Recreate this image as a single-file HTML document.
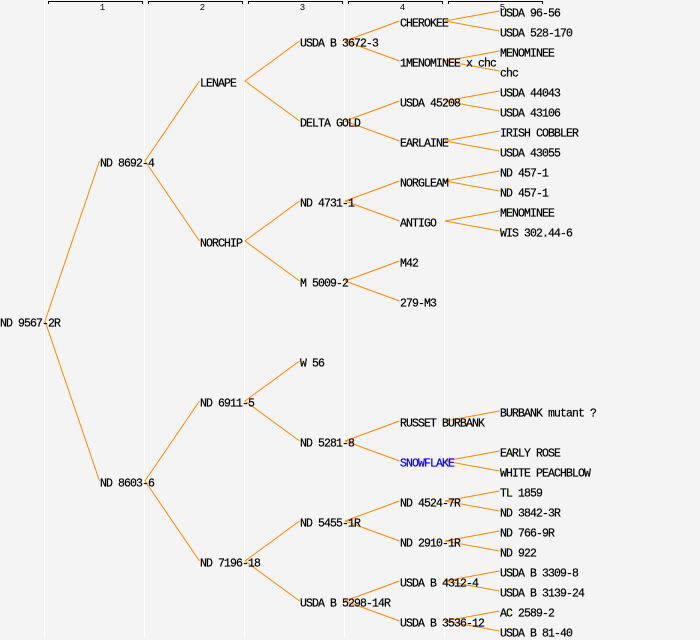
<!DOCTYPE html>
<html>
<head>
<meta charset="utf-8">
<style>
  html, body { margin: 0; padding: 0; background: #f4f4f4; }
  svg { display: block; }
  .t { font-family: "Liberation Mono", monospace; font-size: 11.5px; letter-spacing: -0.9px; fill: #000; stroke: #000; stroke-width: 0.2px; }
  .h { font-family: "Liberation Mono", monospace; font-size: 9px; fill: #000; }
  .e { stroke: #ff8800; stroke-width: 1; fill: none; }
</style>
</head>
<body>
<svg width="700" height="640" viewBox="0 0 700 640" xmlns="http://www.w3.org/2000/svg">
  <rect x="0" y="0" width="700" height="640" fill="#f4f4f4"/>
  <!-- column separators -->
  <g stroke="#ffffff" stroke-width="1">
    <line x1="44.5" y1="0" x2="44.5" y2="638"/>
    <line x1="144.5" y1="0" x2="144.5" y2="638"/>
    <line x1="244.5" y1="0" x2="244.5" y2="638"/>
    <line x1="344.5" y1="0" x2="344.5" y2="638"/>
    <line x1="444.5" y1="0" x2="444.5" y2="638"/>
  </g>
  <!-- header brackets -->
  <g stroke="#000" stroke-width="1" fill="none">
    <path d="M48.5,4 V1.5 H142.5 V4"/>
    <path d="M148.5,4 V1.5 H242.5 V4"/>
    <path d="M248.5,4 V1.5 H342.5 V4"/>
    <path d="M348.5,4 V1.5 H442.5 V4"/>
    <path d="M448.5,4 V1.5 H542.5 V4"/>
  </g>
  <g text-anchor="middle">
    <text class="h" x="102.5" y="10">1</text>
    <text class="h" x="202.5" y="10">2</text>
    <text class="h" x="302.5" y="10">3</text>
    <text class="h" x="402.5" y="10">4</text>
    <text class="h" x="502.5" y="10">5</text>
  </g>

  <!-- edges -->
  <g class="e">
    <line x1="45" y1="321" x2="99.5" y2="161"/>
    <line x1="45" y1="321" x2="99.5" y2="481"/>
    <line x1="145" y1="161" x2="199.5" y2="81"/>
    <line x1="145" y1="161" x2="199.5" y2="241"/>
    <line x1="145" y1="481" x2="199.5" y2="401"/>
    <line x1="145" y1="481" x2="199.5" y2="561"/>
    <line x1="245" y1="81" x2="299.5" y2="41"/>
    <line x1="245" y1="81" x2="299.5" y2="121"/>
    <line x1="245" y1="241" x2="299.5" y2="201"/>
    <line x1="245" y1="241" x2="299.5" y2="281"/>
    <line x1="245" y1="401" x2="299.5" y2="361"/>
    <line x1="245" y1="401" x2="299.5" y2="441"/>
    <line x1="245" y1="561" x2="299.5" y2="521"/>
    <line x1="245" y1="561" x2="299.5" y2="601"/>
    <line x1="345" y1="41" x2="399.5" y2="21"/>
    <line x1="345" y1="41" x2="399.5" y2="61"/>
    <line x1="345" y1="121" x2="399.5" y2="101"/>
    <line x1="345" y1="121" x2="399.5" y2="141"/>
    <line x1="345" y1="201" x2="399.5" y2="181"/>
    <line x1="345" y1="201" x2="399.5" y2="221"/>
    <line x1="345" y1="281" x2="399.5" y2="261"/>
    <line x1="345" y1="281" x2="399.5" y2="301"/>
    <line x1="345" y1="441" x2="399.5" y2="421"/>
    <line x1="345" y1="441" x2="399.5" y2="461"/>
    <line x1="345" y1="521" x2="399.5" y2="501"/>
    <line x1="345" y1="521" x2="399.5" y2="541"/>
    <line x1="345" y1="601" x2="399.5" y2="581"/>
    <line x1="345" y1="601" x2="399.5" y2="621"/>
    <line x1="445" y1="21" x2="499.5" y2="11"/>
    <line x1="445" y1="21" x2="499.5" y2="31"/>
    <line x1="445" y1="61" x2="499.5" y2="51"/>
    <line x1="445" y1="61" x2="499.5" y2="71"/>
    <line x1="445" y1="101" x2="499.5" y2="91"/>
    <line x1="445" y1="101" x2="499.5" y2="111"/>
    <line x1="445" y1="141" x2="499.5" y2="131"/>
    <line x1="445" y1="141" x2="499.5" y2="151"/>
    <line x1="445" y1="181" x2="499.5" y2="171"/>
    <line x1="445" y1="181" x2="499.5" y2="191"/>
    <line x1="445" y1="221" x2="499.5" y2="211"/>
    <line x1="445" y1="221" x2="499.5" y2="231"/>
    <line x1="445" y1="421" x2="499.5" y2="411"/>
    <line x1="445" y1="461" x2="499.5" y2="451"/>
    <line x1="445" y1="461" x2="499.5" y2="471"/>
    <line x1="445" y1="501" x2="499.5" y2="491"/>
    <line x1="445" y1="501" x2="499.5" y2="511"/>
    <line x1="445" y1="541" x2="499.5" y2="531"/>
    <line x1="445" y1="541" x2="499.5" y2="551"/>
    <line x1="445" y1="581" x2="499.5" y2="571"/>
    <line x1="445" y1="581" x2="499.5" y2="591"/>
    <line x1="445" y1="621" x2="499.5" y2="611"/>
    <line x1="445" y1="621" x2="499.5" y2="631"/>
  </g>

  <!-- labels -->
  <g>
    <text class="t" x="0" y="326.5">ND 9567-2R</text>

    <text class="t" x="100" y="166.5">ND 8692-4</text>
    <text class="t" x="100" y="486.5">ND 8603-6</text>

    <text class="t" x="200" y="86.5">LENAPE</text>
    <text class="t" x="200" y="246.5">NORCHIP</text>
    <text class="t" x="200" y="406.5">ND 6911-5</text>
    <text class="t" x="200" y="566.5">ND 7196-18</text>

    <text class="t" x="300" y="46.5">USDA B 3672-3</text>
    <text class="t" x="300" y="126.5">DELTA GOLD</text>
    <text class="t" x="300" y="206.5">ND 4731-1</text>
    <text class="t" x="300" y="286.5">M 5009-2</text>
    <text class="t" x="300" y="366.5">W 56</text>
    <text class="t" x="300" y="446.5">ND 5281-8</text>
    <text class="t" x="300" y="526.5">ND 5455-1R</text>
    <text class="t" x="300" y="606.5">USDA B 5298-14R</text>

    <text class="t" x="400" y="26.5">CHEROKEE</text>
    <text class="t" x="400" y="66.5">1MENOMINEE x chc</text>
    <text class="t" x="400" y="106.5">USDA 45208</text>
    <text class="t" x="400" y="146.5">EARLAINE</text>
    <text class="t" x="400" y="186.5">NORGLEAM</text>
    <text class="t" x="400" y="226.5">ANTIGO</text>
    <text class="t" x="400" y="266.5">M42</text>
    <text class="t" x="400" y="306.5">279-M3</text>
    <text class="t" x="400" y="426.5">RUSSET BURBANK</text>
    <text class="t" x="400" y="466.5" style="fill:#0000ff;stroke:#0000ff">SNOWFLAKE</text>
    <text class="t" x="400" y="506.5">ND 4524-7R</text>
    <text class="t" x="400" y="546.5">ND 2910-1R</text>
    <text class="t" x="400" y="586.5">USDA B 4312-4</text>
    <text class="t" x="400" y="626.5">USDA B 3536-12</text>

    <text class="t" x="500" y="16.5">USDA 96-56</text>
    <text class="t" x="500" y="36.5">USDA 528-170</text>
    <text class="t" x="500" y="56.5">MENOMINEE</text>
    <text class="t" x="500" y="76.5">chc</text>
    <text class="t" x="500" y="96.5">USDA 44043</text>
    <text class="t" x="500" y="116.5">USDA 43106</text>
    <text class="t" x="500" y="136.5">IRISH COBBLER</text>
    <text class="t" x="500" y="156.5">USDA 43055</text>
    <text class="t" x="500" y="176.5">ND 457-1</text>
    <text class="t" x="500" y="196.5">ND 457-1</text>
    <text class="t" x="500" y="216.5">MENOMINEE</text>
    <text class="t" x="500" y="236.5">WIS 302.44-6</text>
    <text class="t" x="500" y="416.5">BURBANK mutant ?</text>
    <text class="t" x="500" y="456.5">EARLY ROSE</text>
    <text class="t" x="500" y="476.5">WHITE PEACHBLOW</text>
    <text class="t" x="500" y="496.5">TL 1859</text>
    <text class="t" x="500" y="516.5">ND 3842-3R</text>
    <text class="t" x="500" y="536.5">ND 766-9R</text>
    <text class="t" x="500" y="556.5">ND 922</text>
    <text class="t" x="500" y="576.5">USDA B 3309-8</text>
    <text class="t" x="500" y="596.5">USDA B 3139-24</text>
    <text class="t" x="500" y="616.5">AC 2589-2</text>
    <text class="t" x="500" y="636.5">USDA B 81-40</text>
  </g>
</svg>
</body>
</html>
